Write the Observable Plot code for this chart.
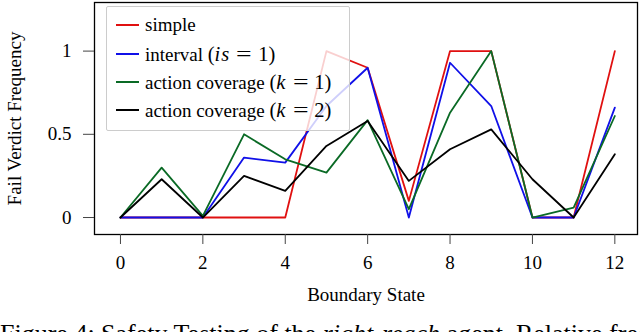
<!DOCTYPE html>
<html><head><meta charset="utf-8">
<script src="https://cdn.jsdelivr.net/npm/d3@7"></script>
<script src="https://cdn.jsdelivr.net/npm/@observablehq/plot@0.6"></script>
<style>
body{margin:0;background:#fff;}
#wrap{position:relative;width:640px;height:332px;overflow:hidden;font-family:"Liberation Serif","DejaVu Serif",serif;}
#chart{position:absolute;left:0;top:0;}
#legend{position:absolute;left:106px;top:6px;width:244px;height:125px;background:rgba(255,255,255,0.8);border:1.3px solid #cccccc;box-sizing:border-box;border-radius:2px;}
.row{position:absolute;left:0;height:0;}
.swatch{position:absolute;left:9px;width:23px;height:0;border-top:2px solid;top:-1px;}
.lab{position:absolute;left:38px;top:-11px;white-space:nowrap;font-size:19px;line-height:22px;color:#000;}
.math{font-size:20.5px;}
.math i{letter-spacing:1px;}
.eq{display:inline-block;margin:0 0.4em;transform:scaleX(1.35);}
#caption{position:absolute;left:0;top:321px;white-space:nowrap;font-size:26px;line-height:1;color:#000;}
</style>
</head><body>
<div id="wrap">
  <div id="chart"></div>
  <div id="legend"></div>
  <div id="caption">Figure 4: Safety Testing of the <i>right-reach</i> agent. Relative frequency of fail verdicts</div>
</div>
<script>
// ---- data ----
const states = [0, 1, 2, 3, 4, 5, 6, 7, 8, 9, 10, 11, 12];
const simple    = [0, 0, 0, 0, 0, 1, 0.9, 0.1, 1, 1, 0, 0, 1];
const interval  = [0, 0, 0, 0.36, 0.33, 0.67, 0.9, 0, 0.93, 0.67, 0, 0, 0.66];
const actionK1  = [0, 0.3, 0.01, 0.5, 0.35, 0.27, 0.585, 0.05, 0.63, 1, 0, 0.06, 0.61];
const actionK2  = [0, 0.23, 0, 0.25, 0.16, 0.43, 0.58, 0.22, 0.41, 0.53, 0.23, 0, 0.38];
const seriesNames = ["simple", "interval (is = 1)", "action coverage (k = 1)", "action coverage (k = 2)"];
const legendLabels = [
  "simple",
  "interval <span class=\"math\">(<i>is</i><span class=\"eq\">=</span>1)</span>",
  "action coverage <span class=\"math\">(<i>k</i><span class=\"eq\">=</span>1)</span>",
  "action coverage <span class=\"math\">(<i>k</i><span class=\"eq\">=</span>2)</span>"
];
const seriesColors = ["#e01010", "#1010e8", "#0a6a25", "#000000"];
const xTicks = [0, 2, 4, 6, 8, 10, 12];
const yTicks = [0, 0.5, 1];
const yTickLabels = ["0", "0.5", "1"];

const seriesValues = [simple, interval, actionK1, actionK2];
const rows = [];
seriesValues.forEach((vals, i) => {
  vals.forEach((v, j) => rows.push({series: seriesNames[i], state: states[j], value: v}));
});

const chart = Plot.plot({
  width: 640,
  height: 310,
  marginLeft: 94,
  marginRight: 3,
  marginTop: 2,
  marginBottom: 76,
  style: {fontFamily: '"Liberation Serif","DejaVu Serif",serif', fontSize: "19px", background: "transparent", color: "#000"},
  x: {domain: [-0.63, 12.55]},
  y: {domain: [-0.102, 1.292]},
  color: {domain: seriesNames, range: seriesColors},
  marks: [
    Plot.lineY(rows, {x: "state", y: "value", z: "series", stroke: "series", strokeWidth: 1.8}),
    Plot.frame({stroke: "#000", strokeWidth: 1.3}),
    Plot.axisX({ticks: xTicks, tickSize: 10, tickPadding: 11, stroke: "#444", fontFamily: '"Liberation Serif",serif', label: "Boundary State", labelAnchor: "center", labelOffset: 66, labelArrow: "none"}),
    Plot.axisY({ticks: yTicks, tickFormat: d => yTickLabels[yTicks.indexOf(d)], tickSize: 11, tickPadding: 12, stroke: "#444", fontFamily: '"Liberation Serif",serif', label: "Fail Verdict Frequency", labelAnchor: "center", labelOffset: 87, labelArrow: "none"})
  ]
});
document.getElementById("chart").appendChild(chart);

const rowTops = [18, 46.5, 74.7, 103.2];
const legend = document.getElementById("legend");
legendLabels.forEach((lab, i) => {
  const r = document.createElement("div");
  r.className = "row";
  r.style.top = rowTops[i] + "px";
  r.innerHTML = `<div class="swatch" style="border-color:${seriesColors[i]}"></div><div class="lab">${lab}</div>`;
  legend.appendChild(r);
});
</script>
</body></html>
